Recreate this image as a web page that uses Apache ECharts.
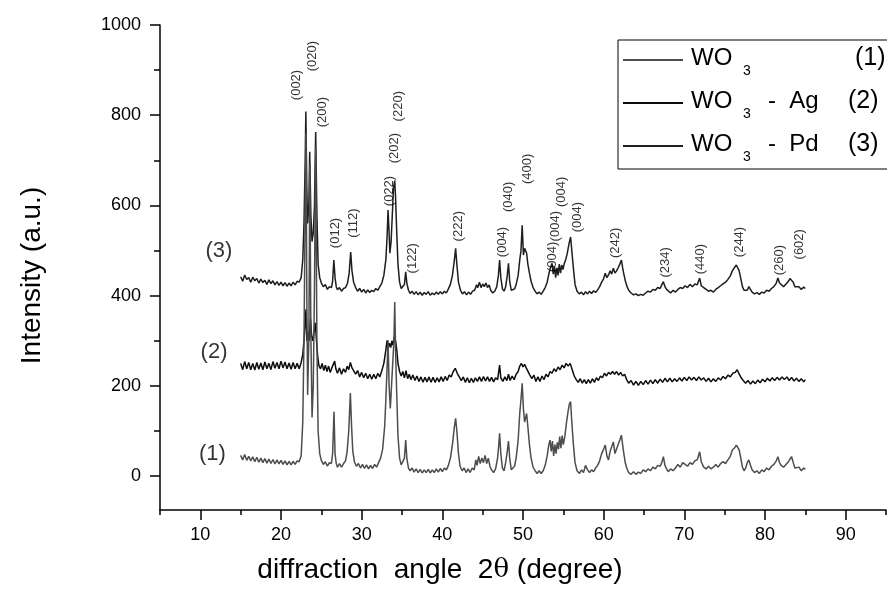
<!DOCTYPE html>
<html>
<head>
<meta charset="utf-8">
<script src="https://cdn.jsdelivr.net/npm/echarts@6/dist/echarts.min.js"></script>
<style>html,body{margin:0;padding:0;background:#fff}#c{width:887px;height:589px}</style>
</head>
<body>
<div id="c"></div>
<script>
// ---- data ----
const seriesNames = ['WO3 (1)', 'WO3 - Ag (2)', 'WO3 - Pd (3)'];

const s1 = [[15.0,46],[15.25,36],[15.5,48],[15.75,35],[16.0,44],[16.25,34],[16.5,43],[16.75,32],[17.0,42],[17.25,31],[17.5,40],[17.75,30],[18.0,39],[18.25,29],[18.5,38],[18.75,28],[19.0,37],[19.25,27],[19.5,36],[19.75,27],[20.0,35],[20.25,26],[20.5,34],[20.75,25],[21.0,33],[21.25,25],[21.5,33],[21.75,26],[22.0,34],[22.25,32],[22.5,45],[22.7,120],[22.85,300],[23.0,600],[23.1,760],[23.2,400],[23.3,180],[23.45,300],[23.58,690],[23.7,320],[23.85,130],[24.0,200],[24.15,420],[24.3,730],[24.45,300],[24.6,100],[24.8,50],[25.0,35],[25.25,26],[25.5,32],[25.75,22],[26.0,30],[26.25,28],[26.4,50],[26.57,143],[26.7,50],[26.85,28],[27.0,20],[27.25,28],[27.5,20],[27.75,28],[28.0,34],[28.2,55],[28.4,100],[28.6,184],[28.75,110],[28.9,55],[29.1,32],[29.35,22],[29.6,28],[29.85,18],[30.1,26],[30.35,17],[30.6,25],[30.85,16],[31.1,24],[31.35,17],[31.6,26],[31.85,20],[32.1,30],[32.35,40],[32.6,60],[32.85,110],[33.0,170],[33.15,240],[33.27,301],[33.4,200],[33.55,150],[33.7,200],[33.85,250],[34.0,300],[34.1,386],[34.2,280],[34.35,180],[34.5,90],[34.7,40],[34.9,25],[35.1,22],[35.3,40],[35.46,80],[35.6,40],[35.8,18],[36.0,12],[36.25,18],[36.5,9],[36.75,16],[37.0,8],[37.25,15],[37.5,7],[37.75,14],[38.0,8],[38.25,15],[38.5,7],[38.75,14],[39.0,8],[39.25,16],[39.5,9],[39.75,17],[40.0,10],[40.25,18],[40.5,14],[40.75,24],[41.0,40],[41.25,70],[41.5,110],[41.65,128],[41.8,100],[42.0,50],[42.2,22],[42.45,12],[42.7,18],[42.95,8],[43.2,16],[43.45,8],[43.7,18],[43.95,14],[44.15,36],[44.3,24],[44.5,44],[44.7,28],[44.9,40],[45.1,30],[45.3,46],[45.5,28],[45.7,40],[45.9,22],[46.1,14],[46.35,8],[46.6,16],[46.85,40],[47.0,70],[47.1,95],[47.25,50],[47.45,18],[47.65,12],[47.85,30],[48.05,55],[48.2,78],[48.35,40],[48.55,14],[48.75,10],[48.95,22],[49.15,40],[49.4,80],[49.6,140],[49.75,170],[49.9,206],[50.05,150],[50.2,120],[50.45,139],[50.6,110],[50.8,70],[51.0,40],[51.25,20],[51.5,12],[51.75,6],[52.0,12],[52.25,6],[52.5,12],[52.75,24],[53.0,45],[53.2,70],[53.35,80],[53.5,55],[53.65,78],[53.8,45],[53.95,70],[54.1,50],[54.25,75],[54.4,60],[54.55,88],[54.7,62],[54.85,90],[55.0,70],[55.2,90],[55.4,120],[55.6,145],[55.75,160],[55.9,165],[56.05,120],[56.25,70],[56.45,30],[56.7,12],[57.0,6],[57.25,14],[57.5,8],[57.75,24],[58.0,14],[58.25,8],[58.5,14],[58.75,10],[59.0,18],[59.25,24],[59.5,34],[59.75,50],[60.0,60],[60.2,69],[60.4,45],[60.6,36],[60.8,55],[61.0,65],[61.2,76],[61.4,50],[61.6,48],[61.8,70],[62.0,80],[62.2,91],[62.35,70],[62.5,50],[62.7,28],[62.9,16],[63.1,8],[63.4,4],[63.7,10],[64.0,4],[64.3,9],[64.6,6],[64.9,14],[65.2,10],[65.5,16],[65.8,12],[66.1,20],[66.4,16],[66.7,24],[67.0,22],[67.2,30],[67.4,43],[67.6,24],[67.8,16],[68.0,10],[68.3,16],[68.6,12],[68.9,18],[69.2,26],[69.5,20],[69.8,30],[70.1,26],[70.4,22],[70.7,30],[71.0,26],[71.3,34],[71.6,36],[71.9,54],[72.1,32],[72.4,20],[72.7,16],[73.0,22],[73.3,16],[73.6,20],[73.9,26],[74.2,20],[74.5,28],[74.8,32],[75.1,28],[75.4,36],[75.7,44],[75.95,58],[76.2,62],[76.45,69],[76.6,66],[76.8,58],[77.0,40],[77.2,20],[77.4,12],[77.6,18],[77.8,30],[78.0,36],[78.2,24],[78.4,14],[78.7,8],[79.0,12],[79.3,6],[79.6,14],[79.9,10],[80.2,18],[80.5,14],[80.8,22],[81.1,26],[81.4,34],[81.6,43],[81.8,30],[82.0,24],[82.3,20],[82.6,26],[82.9,32],[83.1,38],[83.3,43],[83.5,30],[83.7,18],[83.9,14],[84.2,20],[84.5,12],[84.8,18],[85.0,15]];

const s2 = [[15.0,250],[15.25,236],[15.5,254],[15.75,238],[16.0,252],[16.25,236],[16.5,250],[16.75,235],[17.0,252],[17.25,237],[17.5,251],[17.75,236],[18.0,253],[18.25,238],[18.5,250],[18.75,236],[19.0,254],[19.25,239],[19.5,252],[19.75,238],[20.0,255],[20.25,240],[20.5,253],[20.75,238],[21.0,251],[21.25,237],[21.5,252],[21.75,238],[22.0,250],[22.25,238],[22.5,252],[22.7,270],[22.85,300],[23.0,340],[23.1,370],[23.2,300],[23.35,320],[23.5,300],[23.65,350],[23.8,310],[23.95,300],[24.1,320],[24.25,340],[24.4,300],[24.55,265],[24.7,245],[24.9,238],[25.1,250],[25.3,234],[25.5,246],[25.7,232],[25.9,244],[26.1,230],[26.3,240],[26.5,236],[26.65,255],[26.8,238],[27.0,228],[27.25,240],[27.5,226],[27.75,238],[28.0,230],[28.2,244],[28.4,236],[28.6,252],[28.8,240],[29.0,234],[29.25,226],[29.5,234],[29.75,220],[30.0,230],[30.25,218],[30.5,228],[30.75,216],[31.0,226],[31.25,215],[31.5,226],[31.75,216],[32.0,228],[32.25,220],[32.5,234],[32.75,250],[33.0,280],[33.15,301],[33.3,285],[33.45,295],[33.6,285],[33.75,300],[33.9,290],[34.05,310],[34.2,300],[34.35,280],[34.5,250],[34.7,232],[34.9,222],[35.1,232],[35.3,218],[35.5,234],[35.7,216],[35.9,226],[36.1,214],[36.35,224],[36.6,212],[36.85,222],[37.1,210],[37.35,220],[37.6,208],[37.85,219],[38.1,209],[38.35,220],[38.6,208],[38.85,219],[39.1,208],[39.35,218],[39.6,209],[39.85,220],[40.1,210],[40.35,221],[40.6,212],[40.85,224],[41.1,220],[41.35,232],[41.6,239],[41.85,228],[42.1,220],[42.35,212],[42.6,220],[42.85,208],[43.1,218],[43.35,207],[43.6,217],[43.85,208],[44.1,218],[44.35,210],[44.6,220],[44.85,210],[45.1,221],[45.35,211],[45.6,220],[45.85,210],[46.1,219],[46.35,209],[46.6,218],[46.85,214],[47.1,246],[47.25,218],[47.5,210],[47.75,220],[48.0,212],[48.2,226],[48.4,212],[48.65,222],[48.9,214],[49.15,226],[49.4,232],[49.6,244],[49.8,250],[50.0,242],[50.2,248],[50.4,240],[50.6,236],[50.85,224],[51.1,216],[51.35,224],[51.6,210],[51.85,220],[52.1,210],[52.35,222],[52.6,214],[52.85,226],[53.1,220],[53.35,232],[53.6,228],[53.85,238],[54.1,232],[54.35,242],[54.6,236],[54.85,246],[55.1,240],[55.35,250],[55.6,244],[55.85,250],[56.1,236],[56.35,222],[56.6,214],[56.85,208],[57.1,216],[57.35,206],[57.6,214],[57.85,205],[58.1,214],[58.35,206],[58.6,216],[58.85,208],[59.1,218],[59.35,212],[59.6,222],[59.85,218],[60.1,228],[60.35,222],[60.6,230],[60.85,226],[61.1,232],[61.35,226],[61.6,232],[61.85,224],[62.1,230],[62.35,222],[62.6,226],[62.85,214],[63.1,206],[63.4,212],[63.7,202],[64.0,210],[64.3,201],[64.6,210],[64.9,203],[65.2,212],[65.5,204],[65.8,213],[66.1,205],[66.4,214],[66.7,206],[67.0,215],[67.3,208],[67.6,217],[67.9,209],[68.2,217],[68.5,209],[68.8,216],[69.1,210],[69.4,218],[69.7,211],[70.0,219],[70.3,212],[70.6,220],[70.9,213],[71.2,219],[71.5,212],[71.8,220],[72.1,213],[72.4,218],[72.7,210],[73.0,217],[73.3,209],[73.6,216],[73.9,210],[74.2,218],[74.5,213],[74.8,221],[75.1,216],[75.4,224],[75.7,220],[76.0,228],[76.3,230],[76.55,236],[76.8,226],[77.05,218],[77.3,212],[77.6,206],[77.9,212],[78.2,204],[78.5,211],[78.8,205],[79.1,213],[79.4,207],[79.7,215],[80.0,209],[80.3,217],[80.6,211],[80.9,218],[81.2,212],[81.5,219],[81.8,213],[82.1,220],[82.4,214],[82.7,220],[83.0,212],[83.3,219],[83.6,211],[83.9,217],[84.2,210],[84.5,216],[84.8,209],[85.0,214]];

const s3 = [[15.0,442],[15.25,432],[15.5,446],[15.75,436],[16.0,440],[16.25,430],[16.5,441],[16.75,433],[17.0,438],[17.25,428],[17.5,437],[17.75,429],[18.0,434],[18.25,425],[18.5,435],[18.75,427],[19.0,433],[19.25,424],[19.5,431],[19.75,423],[20.0,430],[20.25,422],[20.5,429],[20.75,421],[21.0,428],[21.25,422],[21.5,430],[21.75,424],[22.0,432],[22.25,430],[22.5,440],[22.7,480],[22.85,560],[23.0,700],[23.08,808],[23.2,640],[23.3,560],[23.45,600],[23.56,719],[23.7,580],[23.85,520],[24.0,540],[24.15,600],[24.3,763],[24.45,580],[24.6,470],[24.8,440],[25.0,428],[25.25,420],[25.5,425],[25.75,414],[26.0,420],[26.25,418],[26.4,432],[26.55,479],[26.7,440],[26.85,420],[27.0,413],[27.25,418],[27.5,410],[27.75,416],[28.0,418],[28.25,428],[28.45,450],[28.64,497],[28.8,455],[29.0,430],[29.25,418],[29.5,410],[29.75,416],[30.0,408],[30.25,414],[30.5,406],[30.75,413],[31.0,407],[31.25,412],[31.5,409],[31.75,416],[32.0,412],[32.25,420],[32.5,428],[32.75,445],[33.0,480],[33.15,530],[33.27,590],[33.4,540],[33.5,494],[33.65,520],[33.8,580],[33.95,640],[34.1,655],[34.2,620],[34.35,540],[34.5,470],[34.7,430],[34.9,416],[35.1,412],[35.3,425],[35.46,453],[35.6,428],[35.8,412],[36.0,405],[36.25,410],[36.5,403],[36.75,409],[37.0,402],[37.25,408],[37.5,401],[37.75,407],[38.0,403],[38.25,409],[38.5,401],[38.75,406],[39.0,402],[39.25,408],[39.5,403],[39.75,409],[40.0,404],[40.25,410],[40.5,406],[40.75,415],[41.0,425],[41.25,445],[41.5,480],[41.65,505],[41.8,470],[42.0,430],[42.25,412],[42.5,404],[42.75,409],[43.0,402],[43.25,408],[43.5,403],[43.75,410],[44.0,412],[44.25,424],[44.4,418],[44.6,430],[44.8,418],[45.0,426],[45.2,420],[45.4,428],[45.6,418],[45.8,424],[46.0,412],[46.25,406],[46.5,410],[46.75,420],[46.95,445],[47.1,479],[47.25,440],[47.45,415],[47.65,410],[47.85,420],[48.05,445],[48.2,472],[48.35,432],[48.55,412],[48.75,408],[48.95,415],[49.15,425],[49.4,445],[49.6,480],[49.75,500],[49.9,556],[50.05,490],[50.2,505],[50.45,494],[50.6,470],[50.8,450],[51.0,432],[51.25,418],[51.5,410],[51.75,404],[52.0,408],[52.25,403],[52.5,410],[52.75,418],[53.0,430],[53.2,448],[53.4,462],[53.6,472],[53.75,448],[53.9,465],[54.05,440],[54.2,462],[54.35,445],[54.5,470],[54.65,450],[54.8,468],[54.95,458],[55.1,470],[55.3,480],[55.5,495],[55.7,515],[55.9,530],[56.05,500],[56.25,460],[56.45,425],[56.7,410],[57.0,404],[57.25,408],[57.5,402],[57.75,409],[58.0,404],[58.25,410],[58.5,405],[58.75,411],[59.0,407],[59.25,413],[59.5,420],[59.75,430],[60.0,438],[60.2,450],[60.4,440],[60.6,446],[60.8,455],[61.0,448],[61.2,461],[61.4,450],[61.6,455],[61.8,462],[62.0,470],[62.2,479],[62.35,462],[62.5,448],[62.7,432],[62.9,420],[63.1,412],[63.4,406],[63.7,402],[64.0,404],[64.3,400],[64.6,403],[64.9,401],[65.2,406],[65.5,410],[65.8,408],[66.1,414],[66.4,412],[66.7,418],[67.0,416],[67.2,424],[67.4,431],[67.6,420],[67.8,414],[68.0,410],[68.3,406],[68.6,412],[68.9,408],[69.2,414],[69.5,418],[69.8,416],[70.1,422],[70.4,418],[70.7,425],[71.0,420],[71.3,426],[71.6,424],[71.9,439],[72.1,422],[72.4,418],[72.7,414],[73.0,410],[73.3,412],[73.6,408],[73.9,414],[74.2,418],[74.5,422],[74.8,426],[75.1,430],[75.4,436],[75.7,444],[75.95,455],[76.2,462],[76.45,468],[76.6,466],[76.8,455],[77.0,438],[77.2,420],[77.4,412],[77.6,408],[77.8,412],[78.0,420],[78.2,414],[78.4,408],[78.7,404],[79.0,407],[79.3,403],[79.6,408],[79.9,406],[80.2,412],[80.5,410],[80.8,416],[81.1,420],[81.4,428],[81.6,439],[81.8,428],[82.0,424],[82.3,420],[82.6,426],[82.9,432],[83.1,438],[83.3,442],[83.5,430],[83.7,420],[83.9,416],[84.2,420],[84.5,414],[84.8,419],[85.0,416]];

// peak annotations: [2theta, intensity at label centre, text]
const peakLabels = [[21.95,867,'(002)'],[23.93,931,'(020)'],[25.17,807,'(200)'],[26.8,539,'(012)'],[29.0,561,'(112)'],[33.5,632,'(022)'],[34.0,727,'(202)'],[34.6,820,'(220)'],[36.3,483,'(122)'],[42.0,554,'(222)'],[47.5,519,'(004)'],[48.2,619,'(040)'],[50.6,681,'(400)'],[53.6,486,'(004)'],[54.0,554,'(004)'],[54.8,630,'(004)'],[56.7,574,'(004)'],[61.4,517,'(242)'],[67.6,474,'(234)'],[72.0,481,'(440)'],[76.8,519,'(244)'],[81.8,479,'(260)'],[84.3,514,'(602)']];

// curve tags
const curveTags = [[11.5,49,'(1)'],[11.7,275,'(2)'],[12.3,500,'(3)']];

const xTickMajor = [10,20,30,40,50,60,70,80,90];
const xTickMinor = [5,15,25,35,45,55,65,75,85,95];
const yTickMajor = [0,200,400,600,800,1000];
const yTickMinor = [100,300,500,700,900];

// ---- chart ----
const FONT = 'Liberation Sans, Arial, sans-serif';
const chart = echarts.init(document.getElementById('c'), null, {renderer: 'canvas'});
const axisLineStyle = {color: '#000', width: 1.5};
const legendRich = {
  m: {fontSize: 24, fontFamily: FONT, color: '#000', lineHeight: 26, padding: [3, 0, 7, 3], width: 44},
  s: {fontSize: 14, fontFamily: FONT, color: '#000', lineHeight: 14, padding: [22, 0, 0, 8], width: 25},
  r: {fontSize: 24, fontFamily: FONT, color: '#000', lineHeight: 26, padding: [3, 0, 7, 0], width: 80},
  n: {fontSize: 25, fontFamily: FONT, color: '#000', lineHeight: 26, padding: [3, 0, 7, 0]}
};
const legendText = {
  'WO3 (1)': '{m|WO}{s|3}{r|}{n| (1)}',
  'WO3 - Ag (2)': '{m|WO}{s|3}{r|-  Ag}{n|(2)}',
  'WO3 - Pd (3)': '{m|WO}{s|3}{r|-  Pd}{n|(3)}'
};
const lineColors = ['#4d4d4d', '#0d0d0d', '#1e1e1e'];
const lineData = [s1, s2, s3];

const option = {
  animation: false,
  backgroundColor: '#fff',
  grid: {left: 160, right: 1, top: 25, bottom: 79, containLabel: false},
  legend: {
    data: seriesNames,
    orient: 'vertical',
    left: 618, top: 40,
    padding: [2, 12, 5, 4],
    itemGap: 7,
    itemWidth: 60, itemHeight: 14,
    borderColor: '#000', borderWidth: 1,
    backgroundColor: '#fff',
    selectedMode: false,
    itemStyle: {opacity: 0},
    formatter: name => legendText[name],
    textStyle: {fontFamily: FONT, fontSize: 24, color: '#000', rich: legendRich}
  },
  xAxis: [{
    type: 'value', min: 5, max: 95,
    name: 'diffraction  angle  2{t|θ} (degree)',
    nameLocation: 'middle', nameGap: 46,
    nameTextStyle: {fontFamily: FONT, fontSize: 28, color: '#000', padding: [0, 166, 0, 0],
      rich: {t: {fontFamily: 'DejaVu Serif', fontSize: 26, color: '#000'}}},
    axisLine: {show: true, onZero: false, lineStyle: axisLineStyle},
    axisTick: {show: true, inside: false, length: 10, customValues: xTickMajor, lineStyle: axisLineStyle},
    axisLabel: {customValues: xTickMajor, fontFamily: FONT, fontSize: 18, color: '#000', margin: 16},
    splitLine: {show: false}
  }, {
    type: 'value', min: 5, max: 95, position: 'bottom',
    axisLine: {show: false, onZero: false},
    axisTick: {show: true, length: 5, customValues: xTickMinor, lineStyle: axisLineStyle},
    axisLabel: {show: false},
    splitLine: {show: false}
  }],
  yAxis: [{
    type: 'value', min: -75, max: 1000,
    name: 'Intensity (a.u.)',
    nameLocation: 'middle', nameGap: 114,
    nameTextStyle: {fontFamily: FONT, fontSize: 28, color: '#000', padding: [0, 16, 0, 0]},
    axisLine: {show: true, onZero: false, lineStyle: axisLineStyle},
    axisTick: {show: true, length: 10, customValues: yTickMajor, lineStyle: axisLineStyle},
    axisLabel: {customValues: yTickMajor, formatter: v => String(v), fontFamily: FONT, fontSize: 18, color: '#000', margin: 19},
    splitLine: {show: false}
  }, {
    type: 'value', min: -75, max: 1000, position: 'left',
    axisLine: {show: false, onZero: false},
    axisTick: {show: true, length: 6, customValues: yTickMinor, lineStyle: axisLineStyle},
    axisLabel: {show: false},
    splitLine: {show: false}
  }],
  series: [
    ...seriesNames.map((nm, i) => ({
      name: nm, type: 'line', data: lineData[i],
      xAxisIndex: 0, yAxisIndex: 0,
      symbol: 'none', showSymbol: false,
      z: i === 0 ? 4 : 3,
      lineStyle: {color: lineColors[i], width: 1.5},
      itemStyle: {color: lineColors[i]}
    })),
    {
      name: 'peaks', type: 'scatter', data: peakLabels, symbolSize: 0,
      silent: true, z: 6,
      label: {show: true, position: 'inside', rotate: 90, formatter: p => p.value[2],
        fontFamily: FONT, fontSize: 13, color: '#000'}
    },
    {
      name: 'tags', type: 'scatter', data: curveTags, symbolSize: 0,
      silent: true, z: 6,
      label: {show: true, position: 'inside', formatter: p => p.value[2],
        fontFamily: FONT, fontSize: 22, color: '#000'}
    }
  ]
};
chart.setOption(option);
</script>
</body>
</html>
